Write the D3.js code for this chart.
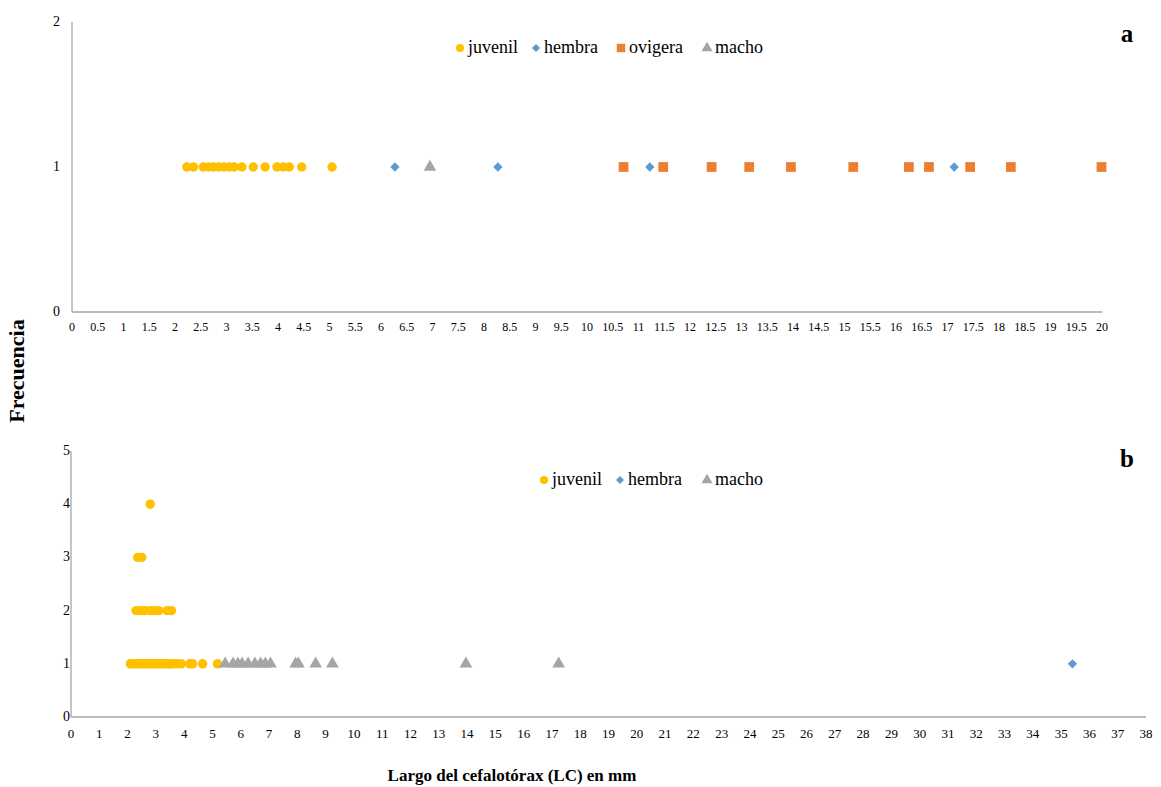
<!DOCTYPE html>
<html>
<head>
<meta charset="utf-8">
<script src="https://cdn.jsdelivr.net/npm/d3@7"></script>
<style>
  body { margin: 0; background: #fff; }
  svg { display: block; }
  text { font-family: "Liberation Serif", "Times New Roman", serif; }
</style>
</head>
<body>
<svg id="chart" width="1161" height="787"></svg>
<script>
// Panel a: carapace length (mm) of each specimen, frequency 1 each
const aJuvenil = [2.23, 2.36, 2.55, 2.65, 2.75, 2.85, 2.95, 3.05, 3.15, 3.3, 3.52, 3.75, 3.98, 4.1, 4.22, 4.46, 5.05];
const aHembra = [6.27, 8.27, 11.22, 17.13];
const aOvigera = [10.71, 11.48, 12.42, 13.15, 13.96, 15.17, 16.25, 16.64, 17.44, 18.23, 19.99];
const aMacho = [6.95];

// Panel b: [length, frequency]
const bJuvenil = [
  [2.8, 4],
  [2.36, 3], [2.5, 3],
  [2.3, 2], [2.45, 2], [2.6, 2], [2.8, 2], [2.95, 2], [3.1, 2], [3.4, 2], [3.55, 2],
  [2.1, 1], [2.2, 1], [2.3, 1], [2.4, 1], [2.5, 1], [2.6, 1], [2.7, 1], [2.8, 1], [2.9, 1],
  [3.0, 1], [3.1, 1], [3.2, 1], [3.3, 1], [3.4, 1], [3.5, 1], [3.6, 1], [3.75, 1],
  [3.9, 1], [4.2, 1], [4.3, 1], [4.65, 1], [5.18, 1]
];
const bHembra = [[35.4, 1]];
const bMacho = [
  [5.45, 1], [5.73, 1], [5.9, 1], [6.05, 1], [6.26, 1], [6.5, 1], [6.7, 1], [6.87, 1], [7.05, 1],
  [7.94, 1], [8.04, 1], [8.65, 1], [9.24, 1], [13.96, 1], [17.24, 1]
];

const aXTicks = d3.range(0, 20.01, 0.5);
const aYTicks = [0, 1, 2];
const bXTicks = d3.range(0, 39, 1);
const bYTicks = [0, 1, 2, 3, 4, 5];

const colors = { juvenil: "#FFC000", hembra: "#5B9BD5", ovigera: "#ED7D31", macho: "#A5A5A5" };
const symbols = { juvenil: d3.symbolCircle, hembra: d3.symbolDiamond2, ovigera: d3.symbolSquare, macho: d3.symbolTriangle };
const sizes = { juvenil: 70, hembra: 55, ovigera: 95, macho: 70 };

const svg = d3.select("#chart");
const axisColor = "#A6A6A6";

function panel(cfg) {
  const g = svg.append("g");
  const x = d3.scaleLinear().domain(cfg.xDomain).range(cfg.xRange);
  const y = d3.scaleLinear().domain(cfg.yDomain).range(cfg.yRange);

  // axis lines
  g.append("line").attr("x1", x(cfg.xDomain[0])).attr("x2", x(cfg.xDomain[0]))
    .attr("y1", y(cfg.yDomain[0])).attr("y2", y(cfg.yDomain[1]))
    .attr("stroke", axisColor).attr("stroke-width", 1.3);
  g.append("line").attr("x1", x(cfg.xDomain[0])).attr("x2", x(cfg.xDomain[1]))
    .attr("y1", y(cfg.yDomain[0])).attr("y2", y(cfg.yDomain[0]))
    .attr("stroke", axisColor).attr("stroke-width", 1.3);

  // x tick labels
  g.selectAll(".xt").data(cfg.xTicks).join("text")
    .attr("x", d => x(d)).attr("y", y(cfg.yDomain[0]) + cfg.xLabelDy)
    .attr("text-anchor", "middle").attr("font-size", cfg.xFont)
    .attr("fill", "#000")
    .text(d => String(d));

  // y tick labels
  g.selectAll(".yt").data(cfg.yTicks).join("text")
    .attr("x", cfg.yLabelX).attr("y", d => y(d) + 4)
    .attr("text-anchor", "end").attr("font-size", 14)
    .attr("fill", "#000")
    .text(d => String(d));

  // points
  cfg.series.forEach(s => {
    g.selectAll(null).data(s.data).join("path")
      .attr("d", d3.symbol().type(symbols[s.key]).size(sizes[s.key]))
      .attr("transform", d => `translate(${x(d[0])},${y(d[1])})`)
      .attr("fill", colors[s.key]);
  });

  // legend
  const lg = g.append("g");
  cfg.legend.forEach(item => {
    lg.append("path")
      .attr("d", d3.symbol().type(symbols[item.key]).size(sizes[item.key] * 0.75))
      .attr("transform", `translate(${item.x},${cfg.legendY})`)
      .attr("fill", colors[item.key]);
    lg.append("text")
      .attr("x", item.x + 8).attr("y", cfg.legendY + 5)
      .attr("font-size", 18).attr("fill", "#000")
      .text(item.key);
  });

  // panel letter
  g.append("text").attr("x", 1127).attr("y", cfg.letterY)
    .attr("text-anchor", "middle").attr("font-size", 25).attr("font-weight", "bold")
    .text(cfg.letter);
}

panel({
  xDomain: [0, 20], xRange: [72, 1102],
  yDomain: [0, 2], yRange: [312, 22],
  xTicks: aXTicks, yTicks: aYTicks,
  xLabelDy: 19, xFont: 12, yLabelX: 60,
  series: [
    { key: "juvenil", data: aJuvenil.map(v => [v, 1]) },
    { key: "hembra", data: aHembra.map(v => [v, 1]) },
    { key: "ovigera", data: aOvigera.map(v => [v, 1]) },
    { key: "macho", data: aMacho.map(v => [v, 1]) }
  ],
  legendY: 48,
  legend: [{ key: "juvenil", x: 460 }, { key: "hembra", x: 536 }, { key: "ovigera", x: 621 }, { key: "macho", x: 707 }],
  letter: "a", letterY: 42
});

panel({
  xDomain: [0, 38], xRange: [71, 1146],
  yDomain: [0, 5], yRange: [717, 451],
  xTicks: bXTicks, yTicks: bYTicks,
  xLabelDy: 21, xFont: 13, yLabelX: 70,
  series: [
    { key: "juvenil", data: bJuvenil },
    { key: "macho", data: bMacho },
    { key: "hembra", data: bHembra }
  ],
  legendY: 480,
  legend: [{ key: "juvenil", x: 544 }, { key: "hembra", x: 620 }, { key: "macho", x: 707 }],
  letter: "b", letterY: 467
});

// axis titles
svg.append("text")
  .attr("transform", "translate(24,371) rotate(-90)")
  .attr("text-anchor", "middle").attr("font-size", 22).attr("font-weight", "bold")
  .text("Frecuencia");
svg.append("text")
  .attr("x", 512).attr("y", 781)
  .attr("text-anchor", "middle").attr("font-size", 17).attr("font-weight", "bold")
  .text("Largo del cefalotórax (LC) en mm");
</script>
</body>
</html>
